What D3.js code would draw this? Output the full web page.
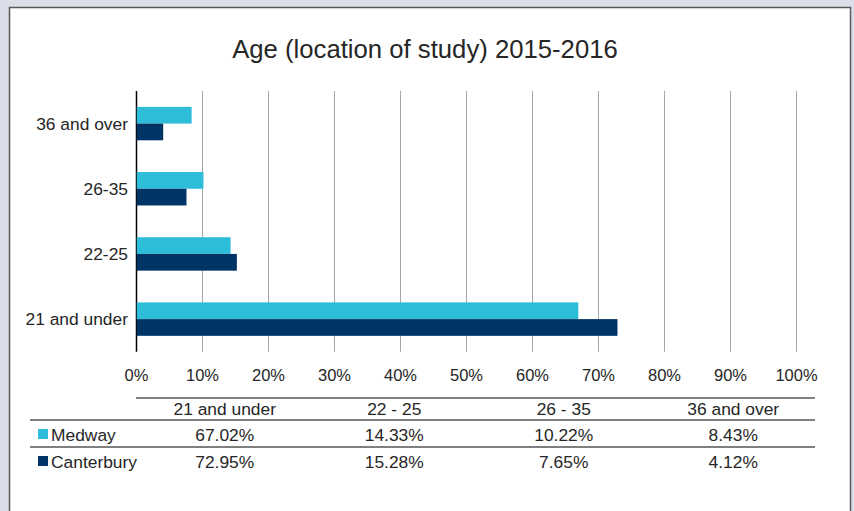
<!DOCTYPE html>
<html>
<head>
<meta charset="utf-8">
<script src="https://cdn.jsdelivr.net/npm/d3@7"></script>
<style>
  body { margin: 0; background: #d9dee8; }
  svg { display: block; font-family: "Liberation Sans", Arial, sans-serif; }
  .axis .domain { display: none; }
  .axis text { fill: #262626; font-size: 16.5px; }
</style>
</head>
<body>
<svg width="854" height="511"></svg>
<script>
// data
var categories = ["21 and under", "22-25", "26-35", "36 and over"];
var tableHeaders = ["21 and under", "22 - 25", "26 - 35", "36 and over"];
var medway = [67.02, 14.33, 10.22, 8.43];
var canterbury = [72.95, 15.28, 7.65, 4.12];
var seriesNames = ["Medway", "Canterbury"];
var percentTicks = [0, 10, 20, 30, 40, 50, 60, 70, 80, 90, 100];

var colors = { Medway: "#2ebdd8", Canterbury: "#003466" };

var svg = d3.select("svg");

// white chart panel with dark border
svg.append("rect")
    .attr("x", 9.5).attr("y", 7.5)
    .attr("width", 841).attr("height", 520)
    .attr("fill", "#fff")
    .attr("stroke", "#595959")
    .attr("stroke-width", 1.5);

svg.append("text")
    .attr("x", 425).attr("y", 58)
    .attr("text-anchor", "middle")
    .attr("fill", "#262626")
    .style("font-size", "25.7px")
    .text("Age (location of study) 2015-2016");

// **** scales ****
var xScale = d3.scaleLinear().domain([0, 100]).range([136, 796]);
var yScale = d3.scaleBand()
    .domain(categories.slice().reverse())
    .range([91, 351.7]);
var inner = d3.scaleBand()
    .domain(seriesNames)
    .range([0, yScale.bandwidth()])
    .paddingOuter(0.95);

// gridlines + tick labels
var xAxis = svg.append("g").attr("class", "axis")
    .attr("transform", "translate(0," + yScale.range()[1] + ")")
    .call(d3.axisBottom(xScale)
        .tickValues(percentTicks)
        .tickSize(-(yScale.range()[1] - yScale.range()[0]))
        .tickPadding(17.5)
        .tickFormat(function(d) { return d + "%"; }));
xAxis.selectAll("line")
    .attr("stroke", function(d) { return d === 0 ? "#000" : "#a6a6a6"; })
    .attr("stroke-width", function(d) { return d === 0 ? 1.5 : 1; });

// category labels
svg.append("g").selectAll("text")
    .data(categories)
    .enter()
    .append("text")
    .attr("x", 128)
    .attr("y", function(d) { return yScale(d) + yScale.bandwidth() / 2; })
    .attr("dy", "0.35em")
    .attr("text-anchor", "end")
    .attr("fill", "#262626")
    .style("font-size", "17.4px")
    .text(function(d) { return d; });

// bars
var rows = [];
categories.forEach(function(c, i) {
    rows.push({ cat: c, series: "Medway", value: medway[i] });
    rows.push({ cat: c, series: "Canterbury", value: canterbury[i] });
});

svg.append("g").selectAll("rect")
    .data(rows)
    .enter()
    .append("rect")
    .attr("x", xScale(0) + 0.75)
    .attr("y", function(d) { return yScale(d.cat) + inner(d.series); })
    .attr("width", function(d) { return xScale(d.value) - xScale(0) - 0.75; })
    .attr("height", inner.bandwidth())
    .attr("fill", function(d) { return colors[d.series]; });

// **** data table ****
var colScale = d3.scaleBand().domain(tableHeaders).range([140, 818]);

svg.append("line")
    .attr("x1", 136).attr("x2", 815).attr("y1", 398).attr("y2", 398)
    .attr("stroke", "#000").attr("stroke-width", 1.2);
[420, 447].forEach(function(y) {
    svg.append("line")
        .attr("x1", 30).attr("x2", 815).attr("y1", y).attr("y2", y)
        .attr("stroke", "#000").attr("stroke-width", 1.2);
});

svg.append("g").selectAll("text")
    .data(tableHeaders)
    .enter()
    .append("text")
    .attr("x", function(d) { return colScale(d) + colScale.bandwidth() / 2; })
    .attr("y", 415)
    .attr("text-anchor", "middle")
    .attr("fill", "#262626")
    .style("font-size", "17.4px")
    .text(function(d) { return d; });

var tableRows = [
    { name: "Medway", values: medway, y: 441 },
    { name: "Canterbury", values: canterbury, y: 468 }
];

tableRows.forEach(function(r) {
    var g = svg.append("g");
    g.append("rect")
        .attr("x", 38).attr("y", r.y - 12)
        .attr("width", 10).attr("height", 10)
        .attr("fill", colors[r.name]);
    g.append("text")
        .attr("x", 51).attr("y", r.y)
        .attr("fill", "#262626")
        .style("font-size", "17.4px")
        .text(r.name);
    g.selectAll("text.val")
        .data(r.values)
        .enter()
        .append("text")
        .attr("class", "val")
        .attr("x", function(d, i) { return colScale(tableHeaders[i]) + colScale.bandwidth() / 2; })
        .attr("y", r.y)
        .attr("text-anchor", "middle")
        .attr("fill", "#262626")
        .style("font-size", "17.4px")
        .text(function(d) { return d.toFixed(2) + "%"; });
});
</script>
</body>
</html>
